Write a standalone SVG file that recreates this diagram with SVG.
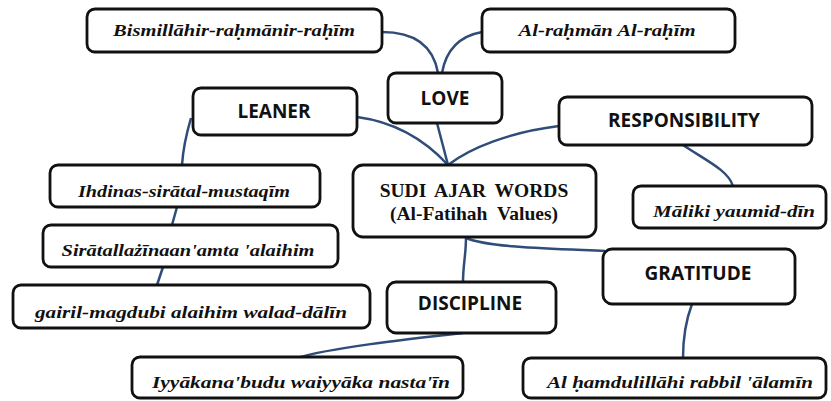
<svg xmlns="http://www.w3.org/2000/svg" width="831" height="401" viewBox="0 0 831 401">
<style>
.box{fill:#fff;stroke:#111;stroke-width:2.8}
.lbl{font-family:"Open Sans","Liberation Sans",sans-serif;font-weight:700;font-size:19px;fill:#111;text-anchor:middle}
.ar{font-family:"Liberation Serif","DejaVu Serif",serif;font-weight:700;font-style:italic;font-size:17px;fill:#111;text-anchor:middle}
.main{font-family:"Liberation Serif","DejaVu Serif",serif;font-weight:700;font-size:19.5px;fill:#111;text-anchor:middle}
.con{fill:none;stroke:#2f4d78;stroke-width:2.5}
</style>
<rect width="831" height="401" fill="#fff"/>
<g id="connectors">
<path class="con" d="M382,32 C420,32 434,50 438,73"/>
<path class="con" d="M482,32 C460,36 446,50 442,73"/>
<path class="con" d="M357,117 C395,122 425,140 448,165"/>
<path class="con" d="M437,123 L448,165"/>
<path class="con" d="M559,126 C510,132 470,148 448,165"/>
<path class="con" d="M191,118 C186,135 183,150 182,165"/>
<path class="con" d="M177,207 L172,225"/>
<path class="con" d="M163,267 L157,285"/>
<path class="con" d="M683,145 C705,160 728,170 733,186"/>
<path class="con" d="M466,237 C466,255 463,265 463,282"/>
<path class="con" d="M466,238 C490,248 560,249 605,251"/>
<path class="con" d="M463,333 C400,340 330,348 297,358"/>
<path class="con" d="M692,304 C686,320 683,340 683,358"/>
</g>
<g id="n-bismillah"><rect class="box" x="87" y="9" width="295" height="43" rx="8"/><text class="ar" x="234" y="36" textLength="242" lengthAdjust="spacingAndGlyphs">Bismillāhir-raḥmānir-raḥīm</text></g>
<g id="n-alrahman"><rect class="box" x="482" y="9" width="253" height="43" rx="8"/><text class="ar" x="607" y="36" textLength="177" lengthAdjust="spacingAndGlyphs">Al-raḥmān Al-raḥīm</text></g>
<g id="n-love"><rect class="box" x="388" y="73" width="114" height="50" rx="8"/><text class="lbl" x="445" y="105">LOVE</text></g>
<g id="n-leaner"><rect class="box" x="193" y="88" width="164" height="47" rx="8"/><text class="lbl" x="274" y="118">LEANER</text></g>
<g id="n-responsibility"><rect class="box" x="559" y="97" width="253" height="48" rx="8"/><text class="lbl" x="684" y="127">RESPONSIBILITY</text></g>
<g id="n-sudi"><rect class="box" x="353" y="165" width="243" height="72" rx="10"/><text class="main" x="474" y="197" word-spacing="4">SUDI AJAR WORDS</text><text class="main" x="474" y="220" word-spacing="5">(Al-Fatihah Values)</text></g>
<g id="n-ihdinas"><rect class="box" x="50" y="165" width="270" height="42" rx="8"/><text class="ar" x="184" y="197" textLength="212" lengthAdjust="spacingAndGlyphs">Ihdinas-sirātal-mustaqīm</text></g>
<g id="n-sirat"><rect class="box" x="43" y="225" width="295" height="42" rx="8"/><text class="ar" x="188" y="256" textLength="253" lengthAdjust="spacingAndGlyphs">Sirātallażīnaan'amta 'alaihim</text></g>
<g id="n-maliki"><rect class="box" x="633" y="186" width="193" height="42" rx="8"/><text class="ar" x="734" y="217" textLength="162" lengthAdjust="spacingAndGlyphs">Māliki yaumid-dīn</text></g>
<g id="n-ghairil"><rect class="box" x="13" y="285" width="357" height="43" rx="8"/><text class="ar" x="191" y="318" textLength="312" lengthAdjust="spacingAndGlyphs">gairil-magdubi  alaihim  walad-dālīn</text></g>
<g id="n-gratitude"><rect class="box" x="603" y="249" width="192" height="55" rx="9"/><text class="lbl" x="698" y="280">GRATITUDE</text></g>
<g id="n-discipline"><rect class="box" x="387" y="282" width="169" height="51" rx="9"/><text class="lbl" x="470" y="310">DISCIPLINE</text></g>
<g id="n-iyyaka"><rect class="box" x="132" y="357" width="331" height="41" rx="8"/><text class="ar" x="301" y="388" textLength="298" lengthAdjust="spacingAndGlyphs">Iyyākana'budu waiyyāka nasta'īn</text></g>
<g id="n-alhamdu"><rect class="box" x="523" y="358" width="303" height="40" rx="8"/><text class="ar" x="680" y="388" textLength="266" lengthAdjust="spacingAndGlyphs">Al ḥamdulillāhi rabbil 'ālamīn</text></g>
</svg>
